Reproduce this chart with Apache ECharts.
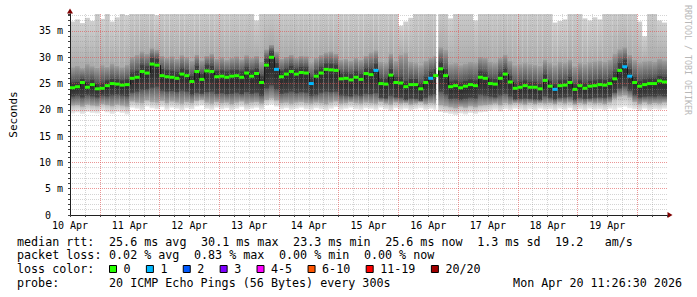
<!DOCTYPE html>
<html><head><meta charset="utf-8">
<script src="https://cdn.jsdelivr.net/npm/echarts@6/dist/echarts.min.js"></script>
<style>html,body{margin:0;padding:0;background:#fff}#c{width:697px;height:297px}</style>
</head><body><div id="c"></div>
<script>
// ---- data ----
const dayLabels = ['10 Apr','11 Apr','12 Apr','13 Apr','14 Apr','15 Apr','16 Apr','17 Apr','18 Apr','19 Apr'];
const stepHours = 2;            // one column = 2 hours, first column starts at 10 Apr ~12:00
// median rtt per column (ms)
const med = [
24.2,24.4,25.2,24.3,24.8,24.0,24.1,24.6,25.0,24.9,24.7,24.8,
26.0,26.2,27.3,27.0,28.7,28.5,26.5,26.3,26.2,26.0,26.8,26.5,
25.4,27.3,25.8,27.4,27.3,26.3,26.4,26.2,26.4,26.5,26.2,27.0,
26.4,26.9,25.2,28.5,30.0,27.7,26.3,26.8,27.3,26.8,27.1,27.0,
25.0,26.4,27.0,27.7,27.6,27.5,25.9,26.0,25.7,26.2,25.8,26.9,
26.7,27.5,25.0,24.9,26.6,25.2,25.1,24.4,24.8,24.8,24.0,25.2,
26.0,26.5,27.8,26.5,24.4,24.6,24.2,24.5,24.8,24.6,26.2,26.0,
25.0,24.9,26.0,26.8,25.3,24.1,24.3,24.6,24.3,24.3,24.0,25.6,
24.5,23.9,24.6,24.7,25.2,23.9,24.6,24.1,24.5,24.6,24.8,24.7,
25.0,25.9,27.5,28.2,26.4,25.2,24.5,24.8,25.0,25.0,25.5,25.3];
// lost pings (of 20) per column
const loss = [
0,0,0,0,0,0,0,0,0,0,0,0,
0,0,0,0,0,0,0,0,0,0,0,0,
0,0,0,0,0,0,0,0,0,0,0,0,
0,0,0,0,0,1,0,0,0,0,0,0,
1,0,0,0,0,0,0,0,0,0,0,0,
0,1,0,0,0,0,0,0,0,0,0,0,
1,0,0,0,0,0,0,0,0,0,0,0,
0,0,0,0,0,0,0,0,0,0,0,0,
0,1,0,0,0,0,0,0,0,0,0,0,
0,0,0,1,1,0,0,0,0,0,0,0];
// smoke: lowest ping, ~10%, core low, core high, ~90%, highest ping (ms)
const smokeLo = [
19.3,19.5,19.2,19.6,19.4,19.3,19.8,19.5,19.2,19.6,19.4,19.1,
20.4,20.2,19.8,20.6,20.3,20.1,20.5,20.0,20.4,20.2,19.9,20.3,
20.1,20.6,20.8,20.2,20.0,20.4,20.1,20.3,19.9,20.2,20.5,20.0,
20.2,20.4,20.0,20.8,21.0,20.6,20.1,20.3,20.0,20.2,20.4,20.1,
20.0,20.3,20.1,19.9,20.2,20.5,20.0,20.2,20.4,20.1,20.0,20.3,
20.2,20.0,20.4,20.1,19.8,20.3,20.0,20.2,19.9,20.1,20.3,20.0,
20.2,20.0,19.6,19.4,19.2,19.0,19.3,19.1,19.4,19.2,19.5,19.6,
19.8,20.0,19.7,20.1,19.9,20.2,20.0,19.8,20.1,19.9,20.2,20.0,
20.1,19.9,20.2,20.0,20.3,19.8,20.1,19.9,20.2,20.0,20.1,19.9,
20.2,20.0,20.4,20.6,20.3,20.1,19.8,20.2,19.9,20.1,20.0,20.2];
const smokeP10 = [
20.9,21.0,20.7,21.1,20.9,20.8,21.2,21.0,20.8,21.1,20.9,20.7,
21.7,21.5,21.4,21.9,21.6,21.5,21.8,21.4,21.7,21.5,21.3,21.6,
21.4,21.8,22.0,21.5,21.3,21.6,21.4,21.5,21.2,21.5,21.7,21.3,
21.5,21.6,21.3,22.0,22.3,21.9,21.4,21.5,21.3,21.5,21.6,21.4,
21.3,21.5,21.4,21.2,21.5,21.7,21.3,21.4,21.6,21.4,21.3,21.5,
21.4,21.3,21.6,21.3,21.1,21.5,21.3,21.4,21.1,21.3,21.5,21.2,
21.4,21.3,21.0,20.8,20.6,20.4,20.7,20.5,20.8,20.6,20.9,21.0,
21.1,21.3,21.0,21.4,21.2,21.4,21.3,21.1,21.4,21.2,21.4,21.3,
21.4,21.2,21.5,21.3,21.5,21.1,21.4,21.2,21.5,21.3,21.4,21.2,
21.5,22.2,22.6,22.8,22.4,21.6,21.2,21.5,21.2,21.4,21.3,21.5];
const smokeCoreLo = [
22.6,22.8,22.5,22.9,22.7,22.5,22.8,22.7,22.9,23.0,22.8,22.7,
23.4,23.6,23.9,24.0,24.3,24.5,23.8,23.6,23.7,23.5,23.8,23.6,
23.0,23.4,23.2,23.5,23.6,23.2,23.3,23.1,23.2,23.4,23.1,23.5,
23.2,23.4,22.8,24.2,24.8,24.0,23.2,23.4,23.6,23.3,23.5,23.4,
22.8,23.0,23.4,23.6,23.5,23.6,22.9,22.8,22.7,23.0,22.8,23.2,
23.1,23.3,22.4,22.3,22.8,22.5,22.4,22.0,22.3,22.2,21.9,22.4,
22.9,23.1,23.6,23.0,22.2,22.3,22.0,22.2,22.4,22.3,23.0,22.8,
22.6,22.5,22.9,23.2,22.6,22.1,22.2,22.3,22.2,22.1,22.0,22.7,
22.4,22.1,22.4,22.5,22.6,22.0,22.4,22.2,22.3,22.4,22.5,22.4,
22.6,23.4,24.2,24.6,23.8,22.9,22.5,22.6,22.7,22.6,22.8,22.7];
const smokeCoreHi = [
25.3,25.4,26.0,25.4,25.8,25.1,25.2,25.7,26.0,25.9,25.7,25.9,
27.2,27.5,28.6,28.4,30.0,29.8,27.9,27.6,27.5,27.3,28.0,27.7,
26.6,28.5,27.0,28.6,28.5,27.5,27.6,27.4,27.6,27.7,27.4,28.2,
27.6,28.1,26.5,29.8,31.2,29.0,27.5,28.0,28.5,28.0,28.3,28.2,
26.3,27.6,28.2,28.9,28.8,28.7,27.1,27.2,26.9,27.4,27.0,28.1,
28.0,28.8,26.2,26.1,27.8,26.4,26.3,25.6,26.0,26.0,25.2,26.4,
27.3,27.8,29.2,27.8,25.5,25.7,25.3,25.6,25.9,25.7,27.4,27.2,
26.1,26.0,27.2,28.0,26.5,25.2,25.4,25.7,25.4,25.4,25.1,26.8,
25.6,25.0,25.7,25.8,26.4,25.0,25.7,25.2,25.6,25.7,25.9,25.8,
26.2,27.3,29.0,29.6,27.8,26.4,25.6,25.9,26.1,26.1,26.6,26.4];
const smokeP90 = [
28.2,28.5,28.0,28.8,28.4,28.1,28.6,28.3,28.9,28.5,28.2,28.7,
30.2,30.6,31.2,30.8,31.8,31.5,30.4,30.0,30.3,29.8,30.5,30.1,
29.4,30.6,29.5,30.4,30.8,29.8,30.1,29.6,30.0,30.3,29.7,30.5,
30.0,30.4,29.2,31.6,32.5,31.2,29.8,30.2,30.6,30.0,30.4,30.3,
29.0,30.0,30.6,31.0,31.2,30.8,29.6,29.8,29.4,30.0,29.6,30.4,
31.0,31.4,29.2,29.0,30.8,29.4,30.6,30.9,29.2,29.0,28.6,29.4,
30.0,30.4,32.0,31.5,28.8,29.0,28.6,28.9,29.2,29.0,30.2,30.0,
29.2,29.0,30.0,30.6,29.4,28.6,28.8,29.0,28.8,28.7,28.5,29.6,
29.0,28.6,29.2,29.0,29.6,28.4,29.0,28.8,29.1,29.3,29.4,29.2,
29.6,30.8,31.6,32.0,30.6,29.6,29.0,29.3,29.4,29.2,29.8,29.5];
const smokeHi = [
36.8,37.2,36.5,37.5,36.9,40,37.3,40,36.8,37.6,40,38.0,
40,40,40,40,40,38.0,40,40,40,40,40,40,
40,40,40,40,40,40,40,40,40,40,40,40,
40,37.0,40,40,40,40,40,40,40,40,40,40,
40,40,40,40,40,40,40,40,40,40,40,40,
40,40,40,40,40,40,36.0,36.8,37.5,40,40,40,
40,40,40,40,37.4,40,40,40,40,37.0,40,40,
40,40,40,40,40,40,40,40,40,40,40,40,
40,36.6,36.9,37.2,40,40,40,37.4,37.0,37.6,37.2,40,
40,40,40,40,40,40,36.8,34.0,40,40,37.0,36.6];
// unknown-data gap (hours from start)
const gapStart = [147.2];
const gapEnd = [148.0];
// loss colour legend
const lossLabels = ['0','1','2','3','4-5','6-10','11-19','20/20'];
const lossUpper  = [0,1,2,3,5,10,19,20];
const lossColors = ['#26ff00','#00b8ff','#0059ff','#7e00ff','#ff00ff','#ff5500','#ff0000','#a00000'];
// statistics text
const rttRow  = ['median rtt:','25.6 ms avg','30.1 ms max','23.3 ms min','25.6 ms now','1.3 ms sd','19.2','am/s'];
const lossRow = ['packet loss:','0.02 % avg','0.83 % max','0.00 % min','0.00 % now'];
const probeRow = ['probe:','20 ICMP Echo Pings (56 Bytes) every 300s'];
const stamp = 'Mon Apr 20 11:26:30 2026';
const yMax = 38.23;

// ---- layout / style ----
const rttCols = [0,13,26,39,52,65,76,83];
const lossCols = [0,13,25,37,49];
const probeCols = [0,13];
const CH = 7.08, TX = 17, FONT = 'DejaVu Sans Mono', LFS = 11.7;
const minorC = 'rgba(143,143,143,0.38)', majorC = 'rgba(222,80,80,0.6)';
const smokeStops = [
  [[0,'#ececec'],[1,'#b8b8b8']],
  [[0,'#a8a8a8'],[1,'#545454']],
  [[0,'#444444'],[0.5,'#2e2e2e'],[1,'#404040']],
  [[0,'#505050'],[1,'#a2a2a2']],
  [[0,'#aaaaaa'],[0.5,'#bebebe'],[1,'#cfcfcf']]
];
function grad(s){
  return new echarts.graphic.LinearGradient(0,1,0,0, smokeStops[s].map(p=>({offset:p[0],color:p[1]})));
}
function lossColor(n){
  for (let k=0;k<lossUpper.length;k++) if (n<=lossUpper[k]) return lossColors[k];
  return lossColors[lossColors.length-1];
}

const smokeData = med.map((m,i)=>[i*stepHours,(i+1)*stepHours,smokeLo[i],smokeP10[i],smokeCoreLo[i],smokeCoreHi[i],smokeP90[i],smokeHi[i]]);
const medData = med.map((m,i)=>[i*stepHours,(i+1)*stepHours,m,loss[i]]);
const stepData = med.map((m,i)=>[i*stepHours, m, i>0?med[i-1]:null]).slice(1);
const gapData = gapStart.map((g,i)=>[g,gapEnd[i]]);

function renderSmoke(params, api){
  const x0 = api.coord([api.value(0),0])[0];
  const x1 = api.coord([api.value(1),0])[0];
  const children=[];
  for (let s=0;s<5;s++){
    const yb = api.coord([0,api.value(2+s)])[1];
    const yt = api.coord([0,api.value(3+s)])[1];
    children.push({type:'rect',shape:{x:x0,y:yt,width:x1-x0,height:yb-yt+(s?0.6:0)},style:{fill:grad(s)}});
  }
  return {type:'group',children};
}
function renderMed(params, api){
  const p0 = api.coord([api.value(0),api.value(2)]);
  const x1 = api.coord([api.value(1),0])[0];
  return {type:'rect',shape:{x:p0[0],y:p0[1]-1.5,width:x1-p0[0],height:3},style:{fill:lossColor(api.value(3))}};
}
function renderStep(params, api){
  const a = api.coord([api.value(0),api.value(1)]);
  const b = api.coord([api.value(0),api.value(2)]);
  const x = Math.round(a[0])+0.5;
  return {type:'line',shape:{x1:x,y1:a[1],x2:x,y2:b[1]},style:{stroke:'#181818',lineWidth:1}};
}
function renderGap(params, api){
  const a = api.coord([api.value(0),yMax]);
  const b = api.coord([api.value(1),0]);
  return {type:'rect',shape:{x:a[0],y:a[1],width:b[0]-a[0],height:b[1]-a[1]},style:{fill:'#ffffff'}};
}

// ---- bottom text block ----
const graphics = [];
function txt(str,x,y,align){
  graphics.push({type:'text',x:x,y:y,silent:true,style:{text:str,fontFamily:FONT,fontSize:LFS,fill:'#000',align:align||'left',verticalAlign:'middle'}});
}
rttRow.forEach((t,i)=>txt(t,TX+rttCols[i]*CH,241.7));
lossRow.forEach((t,i)=>txt(t,TX+lossCols[i]*CH,255));
txt('loss color:',TX,269.3);
let bx = 109;
lossLabels.forEach((lab,i)=>{
  graphics.push({type:'rect',silent:true,shape:{x:bx+0.5,y:265.5,width:7,height:7},style:{fill:lossColors[i],stroke:'#000',lineWidth:1}});
  txt(lab,bx+14.5,269.3);
  bx += 14.5 + lab.length*CH + 15.3;
});
probeRow.forEach((t,i)=>txt(t,TX+probeCols[i]*CH,282.7));
txt(stamp,682,282.7,'right');
graphics.push({type:'text',x:687.5,y:60,rotation:-Math.PI/2,silent:true,style:{text:'RRDTOOL / TOBI OETIKER',fontFamily:FONT,fontSize:8.3,fill:'#b8b8b8',align:'center',verticalAlign:'middle'}});

const chart = echarts.init(document.getElementById('c'),null,{renderer:'svg',width:697,height:297});
chart.setOption({
  animation:false,
  backgroundColor:'#ffffff',
  grid:{left:67,top:14,width:600,height:201,containLabel:false},
  xAxis:[
    {type:'value',min:0,max:240,interval:6,position:'bottom',z:3,
     axisLine:{show:true,onZero:false,lineStyle:{color:'#202020',width:1}},
     axisTick:{show:true,length:2,lineStyle:{color:'#404040'}},
     axisLabel:{show:true,margin:5,color:'#000',fontFamily:FONT,fontSize:10,
       formatter:v=>(v%24===0 && v<240)?dayLabels[v/24]:''},
     splitLine:{show:true,showMinLine:false,showMaxLine:false,lineStyle:{color:[minorC,majorC,minorC,minorC],type:[1,1],width:1}}},
    {type:'value',min:0,max:240,position:'bottom',z:2,
     axisLine:{show:true,onZero:false,symbol:['none','triangle'],symbolSize:[6,5],symbolOffset:[0,3],lineStyle:{color:'#7f0000',width:1}},
     axisTick:{show:false},axisLabel:{show:false},splitLine:{show:false}}
  ],
  yAxis:[
    {type:'value',min:0,max:yMax,interval:1,position:'left',z:3,
     name:'Seconds',nameLocation:'middle',nameRotate:90,nameGap:51,
     nameTextStyle:{fontFamily:FONT,fontSize:11,color:'#000'},
     axisLine:{show:true,onZero:false,lineStyle:{color:'#202020',width:1}},
     axisTick:{show:true,length:2,lineStyle:{color:'#404040'}},
     axisLabel:{show:true,margin:7,color:'#000',fontFamily:FONT,fontSize:10,
       formatter:v=>(v%5===0)?(v===0?'0\u00a0\u00a0':v+' m'):''},
     splitLine:{show:true,showMinLine:false,showMaxLine:false,lineStyle:{color:[minorC,minorC,minorC,minorC,majorC],type:[1,1],width:1}}},
    {type:'value',min:0,max:yMax,position:'left',offset:0,z:2,
     axisLine:{show:true,onZero:false,symbol:['none','triangle'],symbolSize:[6,5],symbolOffset:[0,3],lineStyle:{color:'#7f0000',width:1}},
     axisTick:{show:false},axisLabel:{show:false},splitLine:{show:false}}
  ],
  series:[
    {type:'custom',name:'smoke',clip:true,z:1,renderItem:renderSmoke,encode:{x:[0,1],y:[2,3,4,5,6,7]},data:smokeData},
    {type:'custom',name:'gap',clip:true,z:1.5,renderItem:renderGap,encode:{x:[0,1]},data:gapData},
    {type:'custom',name:'steps',clip:true,z:4,renderItem:renderStep,encode:{x:0,y:[1,2]},data:stepData},
    {type:'custom',name:'median rtt',clip:true,z:5,renderItem:renderMed,encode:{x:[0,1],y:2},data:medData}
  ],
  graphic:graphics
});
</script></body></html>
